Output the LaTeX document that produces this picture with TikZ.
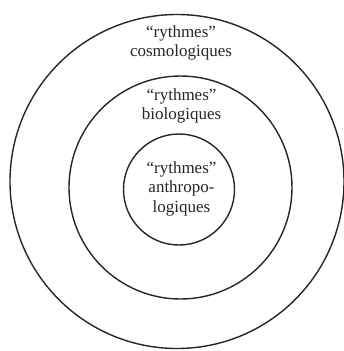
\documentclass[tikz,border=0pt]{standalone}
\usepackage{fontspec}
\setmainfont{Liberation Serif}
\begin{document}
\begin{tikzpicture}[x=1pt,y=-1pt,
  ring/.style={circle,draw=black!85,line width=1.4pt,inner sep=0pt,minimum size=#1},
  lbl/.style={align=center,font=\fontsize{17}{19.2}\selectfont,inner sep=0pt,anchor=base,text=black!85}]
\useasboundingbox (0,0) rectangle (344,351);
\node[ring=334pt] (outer) at (177,181.5) {};
\node[ring=223pt] (middle) at (180.5,187.5) {};
\node[ring=111pt] (inner) at (179,189.5) {};
\node[lbl] (tcos) at (181,56.7) {“rythmes”\\cosmologiques};
\node[lbl] (tbio) at (181.5,119.5) {“rythmes”\\biologiques};
\node[lbl] (tant) at (181.5,212) {“rythmes”\\anthropo-\\logiques};
\end{tikzpicture}
\end{document}
